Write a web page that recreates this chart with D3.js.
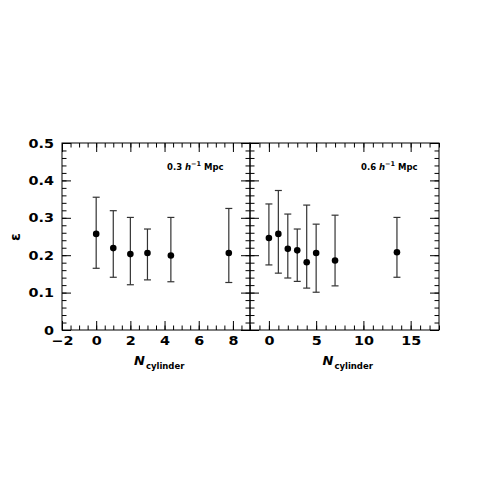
<!DOCTYPE html>
<html><head><meta charset="utf-8">
<script src="https://cdn.jsdelivr.net/npm/d3@7/dist/d3.min.js"></script>
<style>html,body{margin:0;padding:0;background:#fff;}</style>
</head><body>
<svg id="c" width="498" height="498"></svg>
<script>
// Data
const leftN   = [0, 1, 2, 3, 4.37, 7.76];
const leftEps = [0.257, 0.219, 0.203, 0.206, 0.199, 0.206];
const leftLo  = [0.165, 0.141, 0.121, 0.134, 0.129, 0.127];
const leftHi  = [0.355, 0.319, 0.301, 0.270, 0.301, 0.325];

const rightN   = [0, 1, 2, 3, 4, 5, 7, 13.55];
const rightEps = [0.246, 0.257, 0.217, 0.213, 0.181, 0.206, 0.186, 0.208];
const rightLo  = [0.174, 0.152, 0.139, 0.130, 0.112, 0.101, 0.118, 0.141];
const rightHi  = [0.337, 0.373, 0.310, 0.270, 0.334, 0.283, 0.307, 0.301];

const yTicks = [0, 0.1, 0.2, 0.3, 0.4, 0.5];
const leftXTicks = [-2, 0, 2, 4, 6, 8];
const rightXTicks = [0, 5, 10, 15];
const leftLabel = "0.3";
const rightLabel = "0.6";

const svg = d3.select("#c");
const y = d3.scaleLinear([0, 0.5], [330, 143]);
const xL = d3.scaleLinear([-2, 9], [62, 250]);
const xR = d3.scaleLinear([-2, 18], [250, 439]);

const FONT = "DejaVu Sans";
const MAJ = -9, MIN = -4.5;
const SX = 1.15;

function styleAxis(g, withText) {
  g.select(".domain").remove();
  g.selectAll(".tick line").attr("stroke", "#000").attr("stroke-width", 1);
  if (!withText) g.selectAll(".tick text").remove();
  else g.selectAll(".tick text").attr("font-family", FONT).attr("font-size", 12.5)
        .attr("font-weight", "bold").attr("fill", "#000")
        .attr("transform", `scale(${SX},1)`);
}
function minorVals(dom, step) {
  const out = [];
  for (let v = dom[0]; v <= dom[1] + 1e-9; v += step) out.push(+v.toFixed(6));
  return out;
}

function panel(x, xt, minorStep, Ns, Eps, Lo, Hi, leftLabels) {
  const dom = x.domain();
  const r = x.range();
  // bottom
  svg.append("g").attr("transform", "translate(0,330)")
    .call(d3.axisBottom(x).tickValues(minorVals(dom, minorStep)).tickSize(MIN)).call(g => styleAxis(g, false));
  svg.append("g").attr("transform", "translate(0,330)")
    .call(d3.axisBottom(x).tickValues(xt).tickSize(MAJ).tickPadding(6).tickFormat(d3.format("d"))).call(g => styleAxis(g, true));
  // top
  svg.append("g").attr("transform", "translate(0,143)")
    .call(d3.axisTop(x).tickValues(minorVals(dom, minorStep)).tickSize(MIN)).call(g => styleAxis(g, false));
  svg.append("g").attr("transform", "translate(0,143)")
    .call(d3.axisTop(x).tickValues(xt).tickSize(MAJ)).call(g => styleAxis(g, false));
  // left side
  svg.append("g").attr("transform", `translate(${r[0]},0)`)
    .call(d3.axisLeft(y).tickValues(minorVals([0, 0.5], 0.02)).tickSize(MIN)).call(g => styleAxis(g, false));
  svg.append("g").attr("transform", `translate(${r[0]},0)`)
    .call(d3.axisLeft(y).tickValues(yTicks).tickSize(MAJ).tickPadding(7).tickFormat(d => d === 0 ? "0" : d3.format(".1f")(d)))
    .call(g => styleAxis(g, leftLabels));
  // right side
  svg.append("g").attr("transform", `translate(${r[1]},0)`)
    .call(d3.axisRight(y).tickValues(minorVals([0, 0.5], 0.02)).tickSize(MIN)).call(g => styleAxis(g, false));
  svg.append("g").attr("transform", `translate(${r[1]},0)`)
    .call(d3.axisRight(y).tickValues(yTicks).tickSize(MAJ)).call(g => styleAxis(g, false));
  // frame
  svg.append("rect").attr("x", r[0]).attr("y", 143).attr("width", r[1] - r[0]).attr("height", 187)
    .attr("fill", "none").attr("stroke", "#000").attr("stroke-width", 1);

  // error bars
  const g = svg.append("g");
  const idx = d3.range(Ns.length);
  g.selectAll("line.eb").data(idx).join("line").attr("class", "eb")
    .attr("x1", i => x(Ns[i])).attr("x2", i => x(Ns[i]))
    .attr("y1", i => y(Lo[i])).attr("y2", i => y(Hi[i]))
    .attr("stroke", "#333").attr("stroke-width", 1.2);
  g.selectAll("line.cl").data(idx).join("line").attr("class", "cl")
    .attr("x1", i => x(Ns[i]) - 3.5).attr("x2", i => x(Ns[i]) + 3.5)
    .attr("y1", i => y(Lo[i])).attr("y2", i => y(Lo[i]))
    .attr("stroke", "#333").attr("stroke-width", 1.2);
  g.selectAll("line.ch").data(idx).join("line").attr("class", "ch")
    .attr("x1", i => x(Ns[i]) - 3.5).attr("x2", i => x(Ns[i]) + 3.5)
    .attr("y1", i => y(Hi[i])).attr("y2", i => y(Hi[i]))
    .attr("stroke", "#333").attr("stroke-width", 1.2);
  g.selectAll("circle").data(idx).join("circle")
    .attr("cx", i => x(Ns[i])).attr("cy", i => y(Eps[i])).attr("r", 3.3).attr("fill", "#000");

  // x title
  const cx = (r[0] + r[1]) / 2 - 22;
  const t = svg.append("text").attr("x", cx).attr("y", 365).attr("font-family", FONT).attr("fill", "#000");
  t.append("tspan").attr("font-size", 13).attr("font-style", "italic").attr("font-weight", "bold").text("N");
  t.append("tspan").attr("font-size", 8.5).attr("font-weight", "bold").attr("dy", 4).attr("dx", 1).text("cylinder");
}

panel(xL, leftXTicks, 0.5, leftN, leftEps, leftLo, leftHi, true);
panel(xR, rightXTicks, 1, rightN, rightEps, rightLo, rightHi, false);

// annotations
function annot(xp, lab) {
  const t = svg.append("text").attr("x", xp).attr("y", 170).attr("font-family", FONT)
    .attr("font-size", 8.5).attr("font-weight", "bold").attr("fill", "#000");
  t.append("tspan").text(lab + " ");
  t.append("tspan").attr("font-style", "italic").text("h");
  t.append("tspan").attr("font-size", 6.5).attr("dy", -4).text("−1");
  t.append("tspan").attr("dy", 4).text(" Mpc");
}
annot(167, leftLabel);
annot(361, rightLabel);

// y title
svg.append("text").attr("transform", "translate(20,237) rotate(-90)")
  .attr("text-anchor", "middle").attr("font-family", FONT).attr("font-size", 14)
  .attr("font-weight", "bold").attr("fill", "#000").text("ε");
</script>
</body></html>
